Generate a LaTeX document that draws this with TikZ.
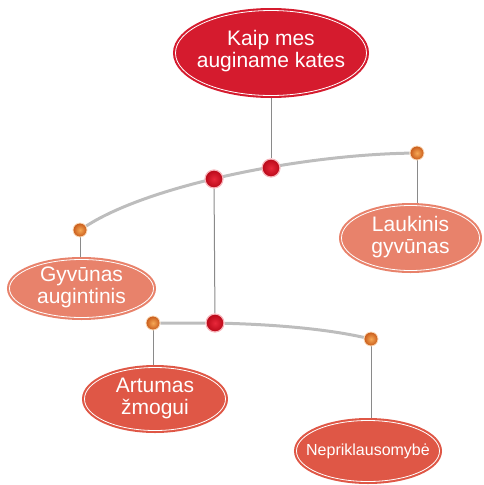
\documentclass[tikz,border=0pt]{standalone}
\usepackage{fontspec}
\setmainfont{Liberation Sans}
\usetikzlibrary{shapes.geometric,backgrounds}
\definecolor{topred}{HTML}{D51B2E}
\definecolor{salmon}{HTML}{E8826B}
\definecolor{coral}{HTML}{DF5746}
\definecolor{dotredin}{HTML}{E8283A}
\definecolor{dotredout}{HTML}{B80818}
\definecolor{dotorin}{HTML}{F6A855}
\definecolor{dotorout}{HTML}{C85A1A}
\definecolor{linegray}{HTML}{BDBDBD}
\definecolor{conngray}{HTML}{8A8A8A}
\tikzset{
  ell/.style={ellipse, inner sep=0pt, fill=#1, draw=white, line width=0.8pt,
    preaction={draw=#1, line width=5pt}},
  txt/.style={text=white, align=center, inner sep=0pt, font=\fontsize{21}{22}\selectfont},
  reddot/.style={circle, inner sep=0pt, minimum size=18pt, draw=dotredin!35, line width=1.2pt,
    shading=radial, inner color=dotredin, outer color=dotredout},
  orgdot/.style={circle, inner sep=0pt, minimum size=14pt, draw=dotorin!40, line width=0.8pt,
    shading=radial, inner color=dotorin, outer color=dotorout},
  curve/.style={draw=linegray, line width=3pt},
  conn/.style={draw=conngray, line width=1pt}
}
\begin{document}
\begin{tikzpicture}[x=1pt,y=-1pt]
\useasboundingbox (0,0) rectangle (483,485);
% ellipses
\node[ell=topred, minimum width=191pt, minimum height=85pt] (top) at (271,53) {};
\node[ell=salmon, minimum width=138pt, minimum height=65pt] (lauk) at (410.5,238) {};
\node[ell=salmon, minimum width=144pt, minimum height=58pt] (gyv) at (81.5,288.5) {};
\node[ell=coral, minimum width=141pt, minimum height=63pt] (art) at (155,399) {};
\node[ell=coral, minimum width=143pt, minimum height=61pt] (nep) at (368,451) {};
% texts
\node[txt, yshift=2pt] (topT) at (top) {Kaip mes\\auginame kates};
\node[txt, yshift=1pt] (laukT) at (lauk) {Laukinis\\gyvūnas};
\node[txt, yshift=1pt] (gyvT) at (gyv) {Gyvūnas\\augintinis};
\node[txt, yshift=1pt] (artT) at (art) {Artumas\\žmogui};
\node[txt, font=\fontsize{16}{18}\selectfont] (nepT) at (nep) {Nepriklausomybė};
% dots
\node[reddot] (r1) at (214,179) {};
\node[reddot] (r2) at (271,168) {};
\node[orgdot] (o1) at (80,230) {};
\node[orgdot] (o2) at (417,153) {};
\node[orgdot] (o3) at (153,323) {};
\node[reddot] (r3) at (215,323) {};
\node[orgdot] (o4) at (371,339) {};
% lines
\begin{scope}[on background layer]
\draw[curve] (o1) .. controls (150,185) and (300,155) .. (o2);
\draw[curve] (o3) -- (r3) .. controls (290,325) and (335,331) .. (o4);
\draw[conn] (r2 |- top) -- (r2);
\draw[conn] (r1) -- (r3);
\draw[conn] (o1) -- (o1 |- gyv);
\draw[conn] (o2) -- (o2 |- lauk);
\draw[conn] (o3) -- (o3 |- art);
\draw[conn] (o4) -- (o4 |- nep);
\end{scope}
\end{tikzpicture}
\end{document}
